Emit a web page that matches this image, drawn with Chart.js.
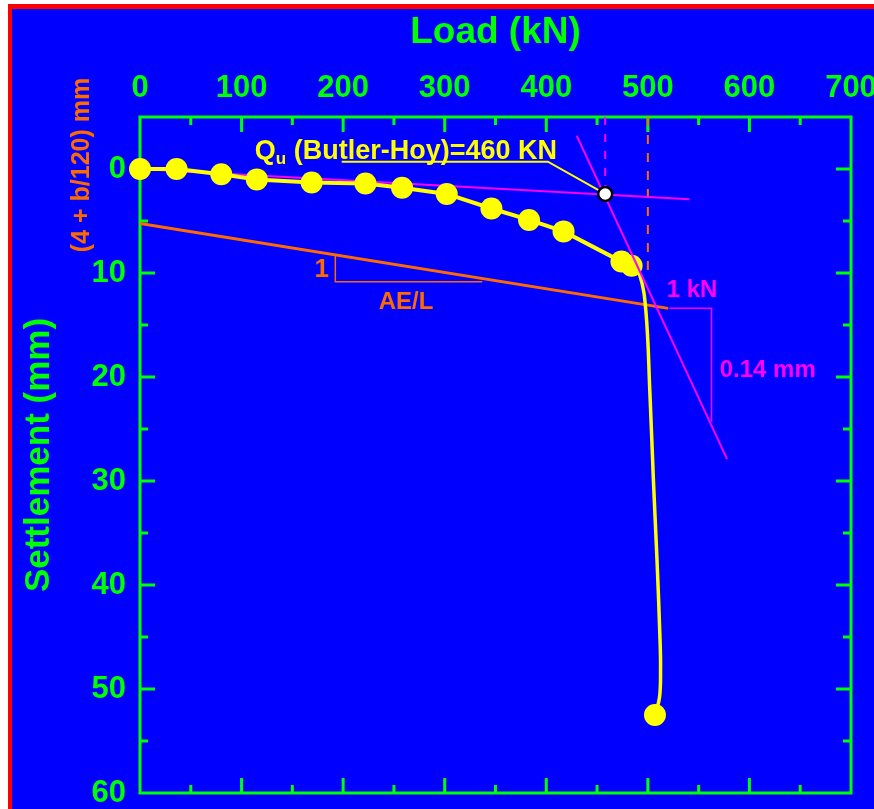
<!DOCTYPE html>
<html><head><meta charset="utf-8">
<script src="https://cdn.jsdelivr.net/npm/chart.js@4.4.1/dist/chart.umd.min.js"></script>
<style>html,body{margin:0;padding:0;background:#fff;overflow:hidden}canvas{display:block}</style>
</head><body>
<canvas id="c" width="874" height="809"></canvas>
<script>
// ---- data ----
const loadKN        = [0, 36, 80, 115, 169, 222, 258, 302, 346, 383, 417, 474, 484, 507];
const settlementMM  = [0, 0, 0.5, 1.0, 1.3, 1.4, 1.8, 2.4, 3.8, 4.9, 6.0, 8.9, 9.3, 52.5];
const failureCurveLoad   = [484, 492, 498, 502, 505.5, 509, 512, 512.5, 511.5, 507];
const failureCurveSettle = [9.3, 10.2, 13.6, 21.5, 30, 37.6, 45.3, 48, 50.8, 52.5];
const xTickValues = [0, 100, 200, 300, 400, 500, 600, 700];
const yTickValues = [0, 10, 20, 30, 40, 50, 60];
const initialTangentLoad   = [0, 541];
const initialTangentSettle = [0, 2.9];
const failureTangentLoad   = [430, 578];
const failureTangentSettle = [-3.2, 27.9];
const elasticLineLoad      = [0, 520];
const elasticLineSettle    = [5.25, 13.4];
const butlerHoyLoad   = [458];
const butlerHoySettle = [2.4];
const qDashLoad   = [458, 458];
const qDashSettle = [-5, 2.4];
const limitDashLoad   = [500, 500];
const limitDashSettle = [-5, 10.5];
const aeTriangleLoad   = [192.3, 192.3, 337];
const aeTriangleSettle = [8.26, 10.85, 10.85];
const kTriangleLoad    = [521, 562.7, 562.7];
const kTriangleSettle  = [13.4, 13.4, 24.3];
const leaderLoad   = [198.6, 401.6, 458];
const leaderSettle = [-0.7, -0.7, 2.4];

const GREEN = '#00ff00', BLUE = '#0000ff', YELLOW = '#ffff00', MAGENTA = '#ff00ff', ORANGE = '#ff6a00';
const FONT = "'Liberation Sans', Arial, sans-serif";
const pts = (xs, ys) => xs.map((x, i) => ({x: x, y: ys[i]}));

const bgPlugin = {
  id: 'bg',
  beforeDraw(chart) {
    const ctx = chart.ctx;
    ctx.save();
    ctx.fillStyle = '#ffffff'; ctx.fillRect(0, 0, 874, 809);
    ctx.fillStyle = '#ff0000'; ctx.fillRect(8, 4, 866, 805);
    ctx.fillStyle = BLUE; ctx.fillRect(12, 9, 862, 800);
    ctx.restore();
  }
};

const framePlugin = {
  id: 'frame',
  beforeDatasetsDraw(chart) {
    const ctx = chart.ctx, a = chart.chartArea;
    const xs = chart.scales.x, ys = chart.scales.y;
    ctx.save();
    ctx.strokeStyle = GREEN; ctx.lineWidth = 3;
    ctx.strokeRect(a.left, a.top, a.right - a.left, a.bottom - a.top);
    ctx.beginPath();
    for (let v = 50; v < 700; v += 50) {
      const px = xs.getPixelForValue(v);
      const len = v % 100 === 0 ? 15 : 8;
      ctx.moveTo(px, a.top); ctx.lineTo(px, a.top + len);
      ctx.moveTo(px, a.bottom); ctx.lineTo(px, a.bottom - len);
    }
    for (let v = 0; v < 60; v += 5) {
      const py = ys.getPixelForValue(v);
      const len = v % 10 === 0 ? 15 : 8;
      ctx.moveTo(a.left, py); ctx.lineTo(a.left + len, py);
      ctx.moveTo(a.right, py); ctx.lineTo(a.right - len, py);
    }
    ctx.stroke();
    ctx.restore();
  }
};

const textPlugin = {
  id: 'texts',
  afterDatasetsDraw(chart) {
    const ctx = chart.ctx;
    const X = v => chart.scales.x.getPixelForValue(v);
    const Y = v => chart.scales.y.getPixelForValue(v);
    ctx.save();
    // Qu annotation
    ctx.fillStyle = YELLOW;
    ctx.textBaseline = 'alphabetic';
    ctx.textAlign = 'left';
    let x = X(113), y = Y(-0.96);
    ctx.font = 'bold 27px ' + FONT;
    ctx.fillText('Q', x, y);
    x += ctx.measureText('Q').width;
    ctx.font = 'bold 17px ' + FONT;
    ctx.fillText('u', x, y + 5);
    x += ctx.measureText('u').width;
    ctx.font = 'bold 27px ' + FONT;
    ctx.fillText(' (Butler-Hoy)=460 KN', x, y);
    // orange triangle labels
    ctx.textAlign = 'center'; ctx.textBaseline = 'middle';
    ctx.fillStyle = ORANGE;
    ctx.font = 'bold 26px ' + FONT;
    ctx.fillText('1', X(179), Y(9.7));
    ctx.font = 'bold 24px ' + FONT;
    ctx.fillText('AE/L', X(262), Y(12.8));
    // magenta triangle labels
    ctx.fillStyle = MAGENTA;
    ctx.font = 'bold 24px ' + FONT;
    ctx.fillText('1 kN', X(543.5), Y(11.7));
    ctx.fillText('0.14 mm', X(618), Y(19.4));
    // offset label on y side
    ctx.fillStyle = ORANGE;
    ctx.font = 'bold 25px ' + FONT;
    ctx.translate(82, 165);
    ctx.rotate(-Math.PI / 2);
    ctx.fillText('(4 + b/120) mm', 0, 0);
    ctx.restore();
  }
};

const lineDs = (data, color, width, order, extra) => Object.assign({
  data: data, showLine: true, borderColor: color, borderWidth: width,
  pointRadius: 0, pointHoverRadius: 0, fill: false, tension: 0, order: order, clip: false
}, extra || {});

new Chart(document.getElementById('c'), {
  type: 'scatter',
  data: {
    datasets: [
      { data: pts(butlerHoyLoad, butlerHoySettle), showLine: false, pointRadius: 7, pointBackgroundColor: '#ffffff',
        pointBorderColor: '#000000', pointBorderWidth: 2.5, order: 0, clip: false },
      lineDs(pts(leaderLoad, leaderSettle), YELLOW, 2, 1),
      lineDs(pts(failureTangentLoad, failureTangentSettle), MAGENTA, 2, 2),
      { data: pts(loadKN, settlementMM), showLine: false, pointRadius: 11, pointBackgroundColor: YELLOW,
        pointBorderWidth: 0, pointBorderColor: YELLOW, order: 3, clip: false },
      lineDs(pts(loadKN.slice(0, 13), settlementMM.slice(0, 13)), YELLOW, 4, 4),
      lineDs(pts(failureCurveLoad, failureCurveSettle), YELLOW, 3.5, 4, {tension: 0.4}),
      lineDs(pts(initialTangentLoad, initialTangentSettle), MAGENTA, 2, 5),
      lineDs(pts(elasticLineLoad, elasticLineSettle), ORANGE, 3, 6),
      lineDs(pts(aeTriangleLoad, aeTriangleSettle), ORANGE, 1.5, 6),
      lineDs(pts(kTriangleLoad, kTriangleSettle), MAGENTA, 1.5, 6),
      lineDs(pts(qDashLoad, qDashSettle), MAGENTA, 2, 6, {borderDash: [8, 9]}),
      lineDs(pts(limitDashLoad, limitDashSettle), ORANGE, 2, 6, {borderDash: [9, 9]})
    ]
  },
  options: {
    responsive: false, animation: false, devicePixelRatio: 1,
    layout: { padding: { left: 0, top: 0, right: 23, bottom: 16 } },
    plugins: { legend: { display: false }, tooltip: { enabled: false } },
    events: [],
    scales: {
      x: {
        type: 'linear', position: 'top', min: 0, max: 700,
        afterBuildTicks(s) { s.ticks = xTickValues.map(v => ({value: v})); },
        ticks: { color: GREEN, font: { family: FONT, size: 31, weight: 'bold' }, padding: 10, maxRotation: 0, autoSkip: false },
        grid: { display: false, drawTicks: false }, border: { display: false },
        title: { display: true, text: 'Load (kN)', color: GREEN, font: { family: FONT, size: 37, weight: 'bold' }, padding: { top: 11, bottom: 0 } },
        afterFit(s) { s.height = 117; s.paddingLeft = 0; s.paddingRight = 0; }
      },
      y: {
        type: 'linear', position: 'left', reverse: true, min: -5, max: 60,
        afterBuildTicks(s) { s.ticks = yTickValues.map(v => ({value: v})); },
        ticks: { color: GREEN, font: { family: FONT, size: 31, weight: 'bold' }, padding: 14 },
        grid: { display: false, drawTicks: false }, border: { display: false },
        title: { display: true, text: 'Settlement (mm)', color: GREEN, font: { family: FONT, size: 35, weight: 'bold' }, padding: { top: 18, bottom: 0 } },
        afterFit(s) { s.width = 140; s.paddingTop = 0; s.paddingBottom = 0; }
      }
    }
  },
  plugins: [bgPlugin, framePlugin, textPlugin]
});
</script>
</body></html>
